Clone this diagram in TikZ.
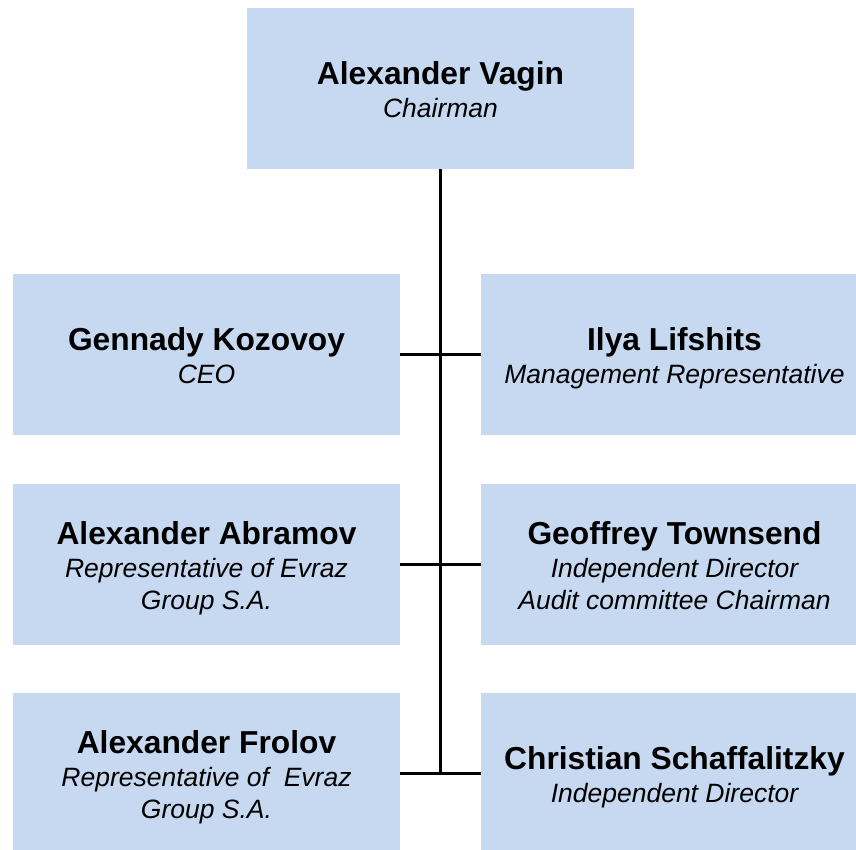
\documentclass[tikz,border=0pt]{standalone}
\usepackage{fontspec}
\setmainfont{Liberation Sans}
\definecolor{boxblue}{HTML}{C6D9F1}
\newcommand{\pname}[1]{{\fontsize{31.75}{32}\selectfont\bfseries\strut #1}}
\newcommand{\prole}[1]{{\itshape\strut #1}}
\begin{document}
\begin{tikzpicture}[x=1pt,y=-1pt,
  person/.style={fill=boxblue, draw=none, minimum width=387pt, minimum height=161pt, inner sep=0pt},
  persontext/.style={inner sep=0pt, align=center, font=\fontsize{26.5}{32}\selectfont, yshift=-6pt},
  link/.style={line width=3pt, black}]
\useasboundingbox (0,0) rectangle (856,849);
\clip (0,0) rectangle (856,849);
\node[person] (vagin) at (440.5,88.5) {};
\node[person] (kozovoy) at (206.5,354.5) {};
\node[person] (lifshits) at (674.5,354.5) {};
\node[person] (abramov) at (206.5,564.5) {};
\node[person] (townsend) at (674.5,564.5) {};
\node[person] (frolov) at (206.5,773.5) {};
\node[person] (schaff) at (674.5,773.5) {};
\node[persontext] (vagin-t) at (vagin.center) {\pname{Alexander Vagin}\\[1pt]\prole{Chairman}};
\node[persontext] (kozovoy-t) at (kozovoy.center) {\pname{Gennady Kozovoy}\\[1pt]\prole{CEO}};
\node[persontext] (lifshits-t) at (lifshits.center) {\pname{Ilya Lifshits}\\[1pt]\prole{Management Representative}};
\node[persontext] (abramov-t) at (abramov.center) {\pname{Alexander Abramov}\\[1pt]\prole{Representative of Evraz}\\\prole{Group S.A.}};
\node[persontext] (townsend-t) at (townsend.center) {\pname{Geoffrey Townsend}\\[1pt]\prole{Independent Director}\\\prole{Audit committee Chairman}};
\node[persontext] (frolov-t) at (frolov.center) {\pname{Alexander Frolov}\\[1pt]\prole{Representative of\ \ Evraz}\\\prole{Group S.A.}};
\node[persontext] (schaff-t) at (schaff.center) {\pname{Christian Schaffalitzky}\\[1pt]\prole{Independent Director}};
\coordinate (bottom) at (440.5,773.5);
\draw[link] (vagin.south) -- (bottom);
\draw[link] (kozovoy.east) -- (lifshits.west);
\draw[link] (abramov.east) -- (townsend.west);
\draw[link] (frolov.east) -- (schaff.west);
\end{tikzpicture}
\end{document}
